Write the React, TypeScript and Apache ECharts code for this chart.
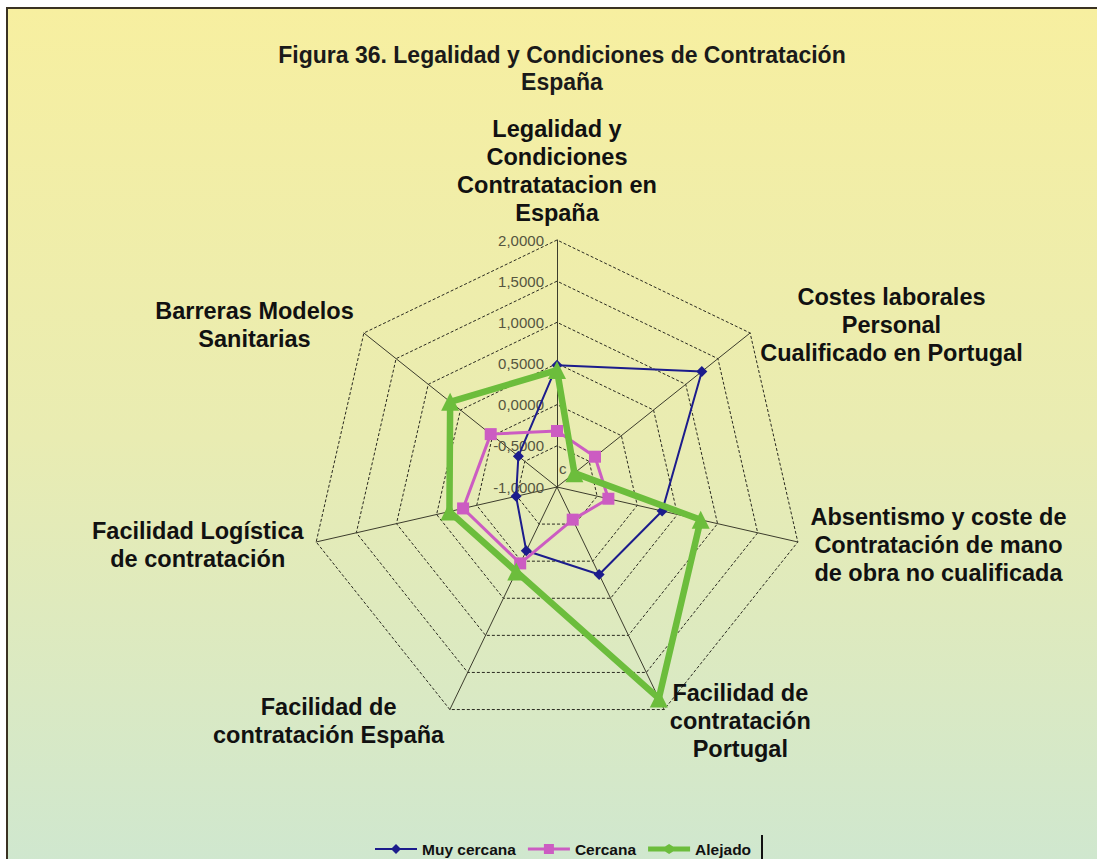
import React, { useEffect, useRef } from 'react';
import * as echarts from 'echarts';

const titleLines = ['Figura 36. Legalidad y Condiciones de Contratación', 'España'];

// Categories in clockwise order starting at the top
const categories = [
  'Legalidad y\nCondiciones\nContratatacion en\nEspaña',
  'Costes laborales\nPersonal\nCualificado en Portugal',
  'Absentismo y coste de\nContratación de mano\nde obra no cualificada',
  'Facilidad de\ncontratación\nPortugal',
  'Facilidad de\ncontratación España',
  'Facilidad Logística\nde contratación',
  'Barreras Modelos\nSanitarias',
];

const seriesNames = ['Muy cercana', 'Cercana', 'Alejado'];
const muyCercana = [0.48, 1.25, 0.31, 0.18, -0.14, -0.49, -0.4];
const cercana = [-0.32, -0.41, -0.36, -0.56, 0.03, 0.17, 0.03];
const alejado = [0.42, -0.73, 0.79, 1.85, 0.14, 0.34, 0.66];

const axisMin = -1;
const axisMax = 2;
const axisStep = 0.5;

const seriesColors = ['#1c1c8c', '#cc5cc2', '#6cbd3c'];
const seriesSymbols = ['diamond', 'rect', 'triangle'];
const seriesSymbolSizes = [11, 12, 18];
const seriesLineWidths = [2, 3, 6.5];
const legendIcons = [
  'path://M0,4H17L21,0L25,4H42V6H25L21,10L17,6H0Z',
  'path://M0,3.5H16V0H26V3.5H42V6.5H26V10H16V6.5H0Z',
  'path://M0,2.5H17L21,0L25,2.5H42V7.5H25L21,10L17,7.5H0Z',
];

const FONT = '"Liberation Sans", Arial, Helvetica, sans-serif';

// ECharts lays radar indicators out counter-clockwise; the reference runs clockwise.
const order = [0, 6, 5, 4, 3, 2, 1];
const pick = (arr: any[]) => order.map((i) => arr[i]);

export default function App() {
  const ref = useRef<HTMLDivElement>(null);
  useEffect(() => {
    const chart = echarts.init(ref.current!, null, { renderer: 'svg' });
    const values = [muyCercana, cercana, alejado];
    const indicator = order.map((i, k) => ({
      name: categories[i],
      min: axisMin,
      max: axisMax,
      axisLabel: { show: k === 0 },
    }));
    chart.setOption({
      animation: false,
      title: {
        text: titleLines.join('\n'),
        left: 557,
        top: 36,
        textAlign: 'center',
        textStyle: {
          fontFamily: FONT,
          fontSize: 23,
          fontWeight: 'bold',
          color: '#1a1a1a',
          lineHeight: 27,
        },
      },
      graphic: [
        {
          type: 'rect',
          z: -10,
          silent: true,
          shape: { x: 7, y: 8, width: 1200, height: 1000 },
          style: {
            fill: new echarts.graphic.LinearGradient(0, 0, 0, 1, [
              { offset: 0, color: '#f7efa0' },
              { offset: 0.43, color: '#e9ecb2' },
              { offset: 0.86, color: '#cfe7cf' },
              { offset: 1, color: '#cfe7cf' },
            ]),
            stroke: '#3a3222',
            lineWidth: 2,
          },
        },
        {
          type: 'text',
          silent: true,
          x: 559,
          y: 461,
          style: { text: 'c', fontFamily: FONT, fontSize: 15, fill: '#55553f' },
        },
        {
          type: 'rect',
          silent: true,
          shape: { x: 761, y: 835, width: 2, height: 24 },
          style: { fill: '#111' },
        },
      ],
      legend: {
        left: 370,
        top: 836,
        itemWidth: 42,
        itemHeight: 10,
        itemGap: 12,
        data: seriesNames.map((n, s) => ({ name: n, icon: legendIcons[s] })),
        textStyle: { fontFamily: FONT, fontSize: 15.5, fontWeight: 'bold', color: '#111' },
      },
      radar: {
        center: [557, 487],
        radius: 247,
        startAngle: 90,
        shape: 'polygon',
        splitNumber: (axisMax - axisMin) / axisStep,
        indicator,
        axisName: {
          color: '#111',
          fontFamily: FONT,
          fontSize: 23.5,
          fontWeight: 'bold',
          formatter: (name: string) =>
            name
              .split('\n')
              .map((l) => `{c|${l}}`)
              .join('\n'),
          rich: {
            c: {
              align: 'center',
              fontFamily: FONT,
              fontSize: 23.5,
              fontWeight: 'bold',
              lineHeight: 28,
              color: '#111',
            },
          },
        },
        nameGap: 13,
        axisLine: { lineStyle: { color: '#3c3c2c', width: 1 } },
        axisTick: { show: false },
        axisLabel: {
          show: true,
          margin: 13,
          fontFamily: FONT,
          fontSize: 15,
          color: '#55553f',
          showMinLabel: true,
          showMaxLabel: true,
          formatter: (v: number) => v.toFixed(4).replace('.', ','),
        },
        splitLine: {
          lineStyle: { color: '#2a2a20', width: 1, type: [3, 2] },
        },
        splitArea: { show: false },
      },
      series: seriesNames.map((name, s) => ({
        type: 'radar',
        name,
        z: 2 + s,
        symbol: seriesSymbols[s],
        symbolSize: seriesSymbolSizes[s],
        itemStyle: { color: seriesColors[s] },
        lineStyle: { color: seriesColors[s], width: seriesLineWidths[s] },
        data: [{ name, value: pick(values[s]) }],
      })),
    });
    return () => chart.dispose();
  }, []);
  return (
    <div
      ref={ref}
      style={{ position: 'absolute', left: 0, top: 0, width: 1097, height: 859, background: '#ffffff' }}
    />
  );
}
